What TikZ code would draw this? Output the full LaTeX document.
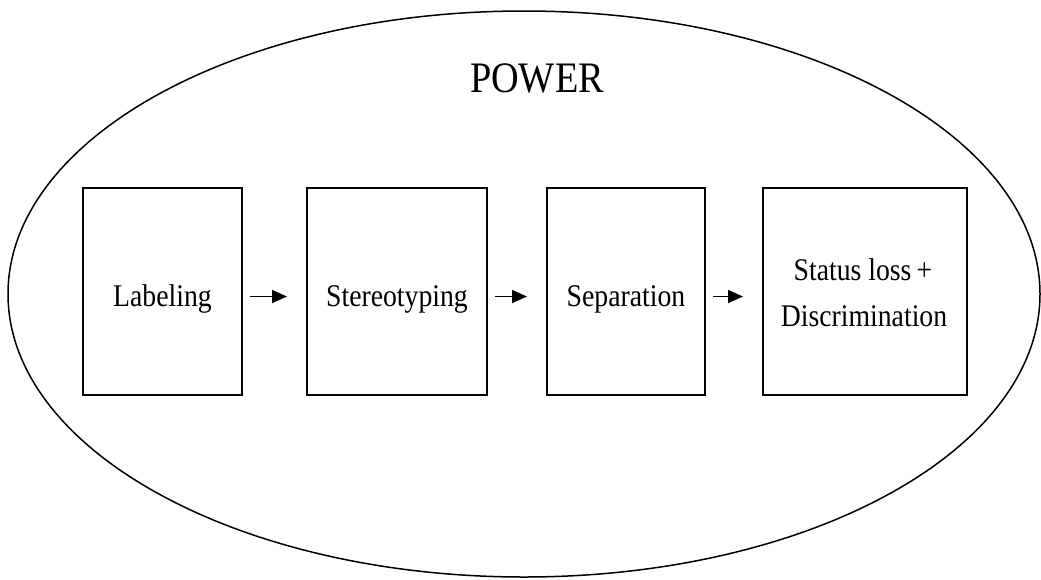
\documentclass[tikz,border=0pt]{standalone}
\usepackage{fontspec}
\setmainfont[FakeStretch=0.88]{Liberation Serif}
\usetikzlibrary{shapes.geometric,arrows.meta}
\begin{document}
\begin{tikzpicture}[x=1pt,y=-1pt,
  stagebox/.style={draw, line width=2pt, minimum height=207pt, inner sep=0pt},
  stagetext/.style={anchor=base, inner sep=0pt, font=\fontsize{31.5}{46}\selectfont},
  flow/.style={line width=1.8pt, -{Triangle[length=15pt,width=13pt]}, shorten <=7pt, shorten >=19pt}]
\useasboundingbox (0,0) rectangle (1041,579);
\node[draw, ellipse, line width=1.5pt, minimum width=1032pt, minimum height=566pt, inner sep=0pt] (power) at (524,294) {};
\node[font=\fontsize{43.5}{43.5}\selectfont, anchor=base] (title) at (537,92) {POWER};
\node[stagebox, minimum width=159pt] (lab) at (162.5,291.5) {};
\node[stagebox, minimum width=180pt] (ste) at (397,291.5) {};
\node[stagebox, minimum width=158pt] (sep) at (626,291.5) {};
\node[stagebox, minimum width=204pt] (sta) at (865,291.5) {};
\node[stagetext] (labt) at (162.5,306) {Labeling};
\node[stagetext] (stet) at (397,306) {Stereotyping};
\node[stagetext] (sept) at (626,306) {Separation};
\node[stagetext] (stat1) at (863,280) {Status loss\,+};
\node[stagetext] (stat2) at (864,326) {Discrimination};
\draw[flow] ([yshift=-5pt]lab.east) -- ([yshift=-5pt]ste.west);
\draw[flow] ([yshift=-5pt]ste.east) -- ([yshift=-5pt]sep.west);
\draw[flow] ([yshift=-5pt]sep.east) -- ([yshift=-5pt]sta.west);
\end{tikzpicture}
\end{document}
